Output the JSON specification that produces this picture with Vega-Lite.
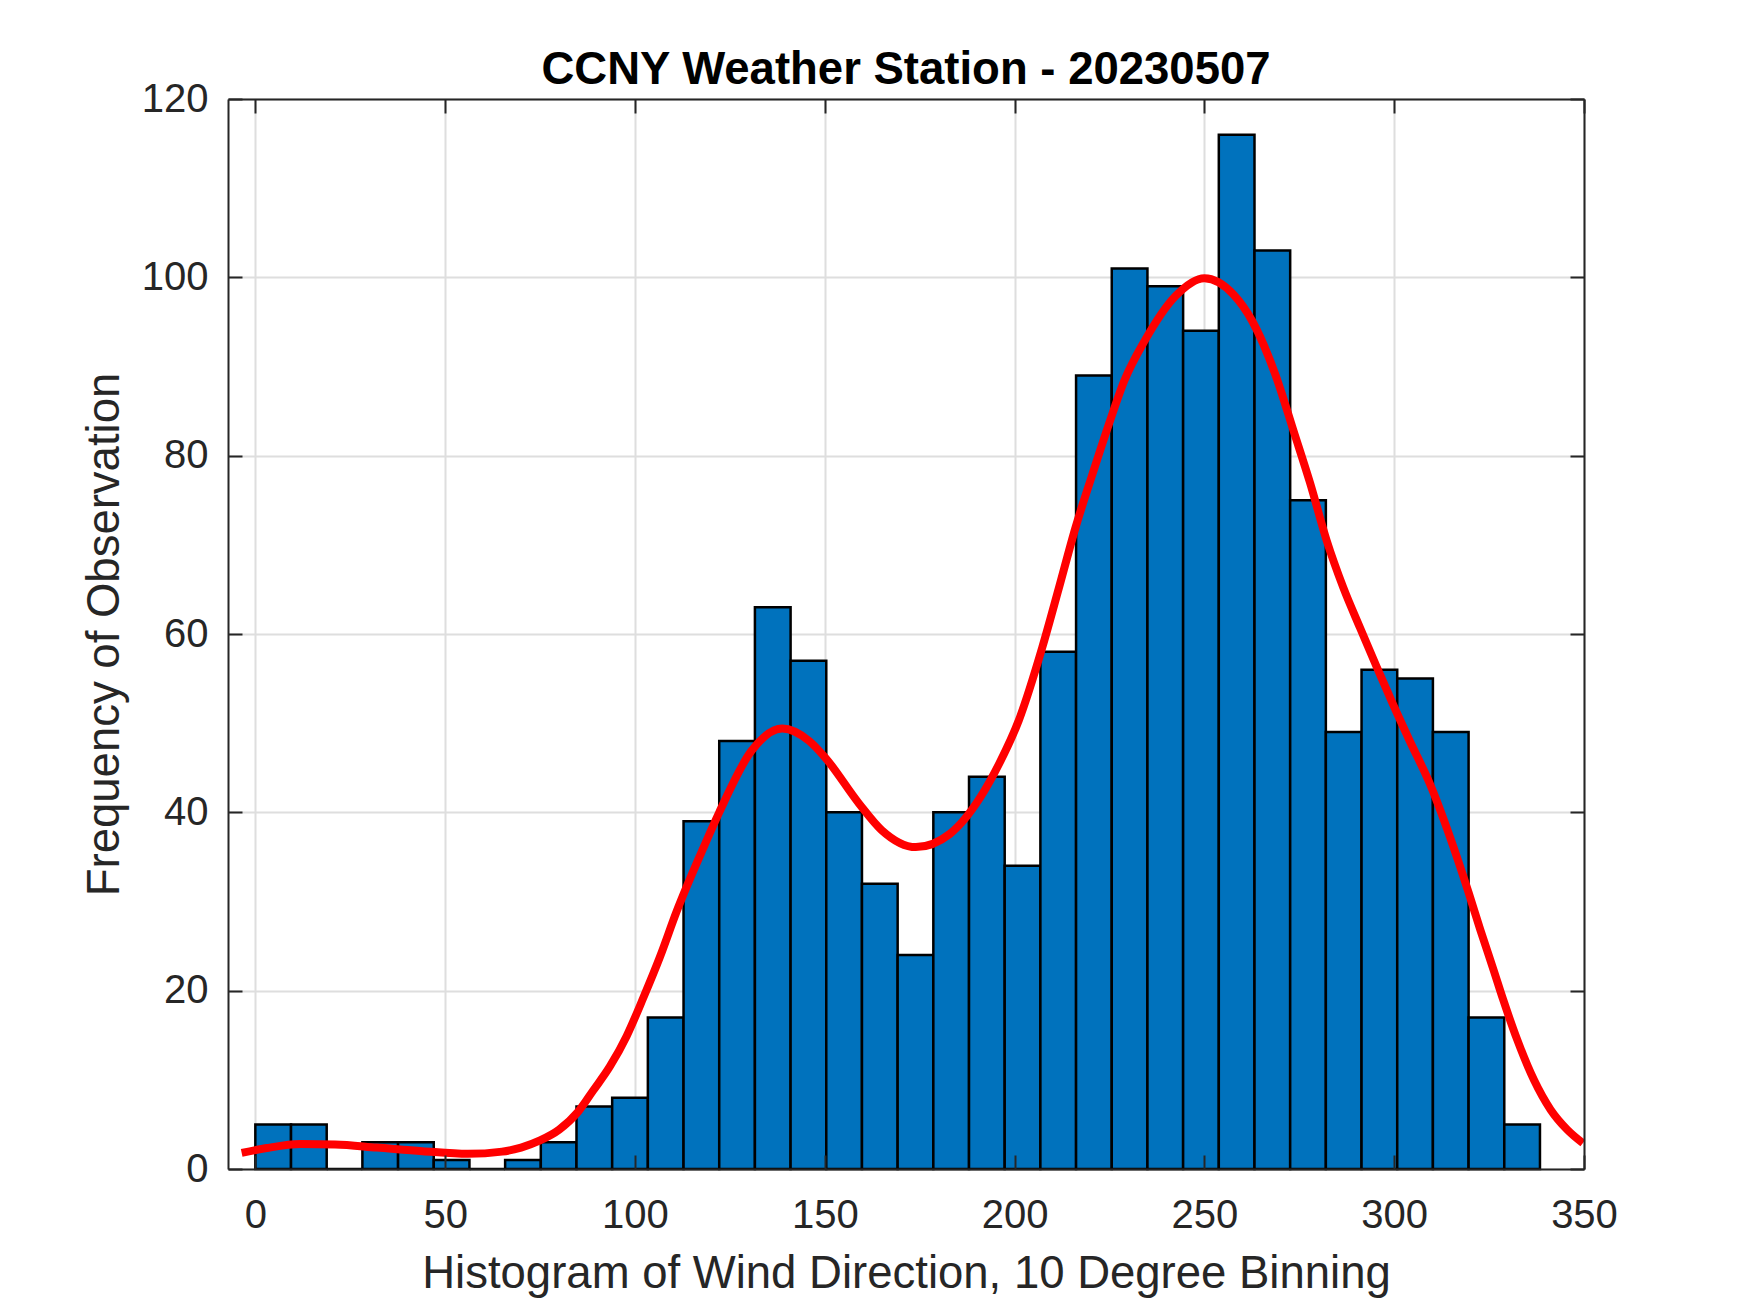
{
  "$schema": "https://vega.github.io/schema/vega-lite/v6.json",
  "width": 1356,
  "height": 1070,
  "autosize": {"type": "none"},
  "padding": {"left": 228, "top": 99, "right": 166, "bottom": 144},
  "background": "#ffffff",
  "config": {
    "view": {"stroke": null},
    "font": "Liberation Sans"
  },
  "title": {
    "text": "CCNY Weather Station - 20230507",
    "font": "Liberation Sans",
    "fontSize": 45.5,
    "fontWeight": "bold",
    "color": "#000000",
    "anchor": "middle",
    "frame": "group",
    "offset": -14
  },
  "datasets": {
    "bars": [
      {"b0": 0, "b1": 9.4, "count": 5},
      {"b0": 9.4, "b1": 18.8, "count": 5},
      {"b0": 18.8, "b1": 28.2, "count": 0},
      {"b0": 28.2, "b1": 37.6, "count": 3},
      {"b0": 37.6, "b1": 47, "count": 3},
      {"b0": 47, "b1": 56.4, "count": 1},
      {"b0": 56.4, "b1": 65.8, "count": 0},
      {"b0": 65.8, "b1": 75.2, "count": 1},
      {"b0": 75.2, "b1": 84.6, "count": 3},
      {"b0": 84.6, "b1": 94, "count": 7},
      {"b0": 94, "b1": 103.4, "count": 8},
      {"b0": 103.4, "b1": 112.8, "count": 17},
      {"b0": 112.8, "b1": 122.2, "count": 39},
      {"b0": 122.2, "b1": 131.6, "count": 48},
      {"b0": 131.6, "b1": 141, "count": 63},
      {"b0": 141, "b1": 150.4, "count": 57},
      {"b0": 150.4, "b1": 159.8, "count": 40},
      {"b0": 159.8, "b1": 169.2, "count": 32},
      {"b0": 169.2, "b1": 178.6, "count": 24},
      {"b0": 178.6, "b1": 188, "count": 40},
      {"b0": 188, "b1": 197.4, "count": 44},
      {"b0": 197.4, "b1": 206.8, "count": 34},
      {"b0": 206.8, "b1": 216.2, "count": 58},
      {"b0": 216.2, "b1": 225.6, "count": 89},
      {"b0": 225.6, "b1": 235, "count": 101},
      {"b0": 235, "b1": 244.4, "count": 99},
      {"b0": 244.4, "b1": 253.8, "count": 94},
      {"b0": 253.8, "b1": 263.2, "count": 116},
      {"b0": 263.2, "b1": 272.6, "count": 103},
      {"b0": 272.6, "b1": 282, "count": 75},
      {"b0": 282, "b1": 291.4, "count": 49},
      {"b0": 291.4, "b1": 300.8, "count": 56},
      {"b0": 300.8, "b1": 310.2, "count": 55},
      {"b0": 310.2, "b1": 319.6, "count": 49},
      {"b0": 319.6, "b1": 329, "count": 17},
      {"b0": 329, "b1": 338.4, "count": 5}
    ],
    "fit": [
      {"v": -3.6, "f": 1.8},
      {"v": 3, "f": 2.35},
      {"v": 12, "f": 2.8},
      {"v": 21, "f": 2.75},
      {"v": 32, "f": 2.4},
      {"v": 44, "f": 2.0},
      {"v": 56, "f": 1.7},
      {"v": 65, "f": 1.95},
      {"v": 70, "f": 2.4},
      {"v": 75, "f": 3.2},
      {"v": 80, "f": 4.4},
      {"v": 85, "f": 6.4},
      {"v": 89, "f": 8.8},
      {"v": 93.4, "f": 11.5},
      {"v": 97.8, "f": 14.9},
      {"v": 102.2, "f": 19.2},
      {"v": 106.6, "f": 23.8},
      {"v": 111, "f": 28.9},
      {"v": 117.6, "f": 35.6},
      {"v": 122.2, "f": 40.0},
      {"v": 130.7, "f": 46.9},
      {"v": 138.8, "f": 49.4},
      {"v": 145.9, "f": 48.0},
      {"v": 150, "f": 46.2},
      {"v": 159, "f": 41.0},
      {"v": 165, "f": 38.0},
      {"v": 174, "f": 36.1},
      {"v": 183, "f": 37.6},
      {"v": 191, "f": 41.7},
      {"v": 196, "f": 45.5},
      {"v": 201.1, "f": 50.3},
      {"v": 207.3, "f": 58.5},
      {"v": 211.7, "f": 65.2},
      {"v": 216.1, "f": 72.0},
      {"v": 220.5, "f": 77.9},
      {"v": 224.9, "f": 83.6},
      {"v": 228.9, "f": 88.4},
      {"v": 234.3, "f": 92.9},
      {"v": 242.4, "f": 97.9},
      {"v": 250, "f": 99.9},
      {"v": 257.6, "f": 98.1},
      {"v": 262.6, "f": 95.1},
      {"v": 268.7, "f": 89.1},
      {"v": 273.7, "f": 82.5},
      {"v": 277.8, "f": 77.0},
      {"v": 282.2, "f": 70.5},
      {"v": 286.6, "f": 65.2},
      {"v": 291, "f": 60.7},
      {"v": 295.4, "f": 56.3},
      {"v": 299.7, "f": 52.1},
      {"v": 304.1, "f": 48.0},
      {"v": 309.4, "f": 43.2},
      {"v": 315.7, "f": 36.0},
      {"v": 319.6, "f": 31.0},
      {"v": 322.7, "f": 26.8},
      {"v": 326.2, "f": 22.3},
      {"v": 328.7, "f": 19.0},
      {"v": 332.4, "f": 14.5},
      {"v": 336.8, "f": 10.0},
      {"v": 341.2, "f": 6.65},
      {"v": 345.6, "f": 4.4},
      {"v": 349.7, "f": 2.9}
    ]
  },
  "resolve": {"axis": {"x": "independent", "y": "independent"}},
  "layer": [
    {
      "data": {"name": "bars"},
      "mark": {"type": "rect", "fill": "#0072BD", "stroke": "#000000", "strokeWidth": 2.5},
      "encoding": {
        "x": {
          "field": "b0", "type": "quantitative",
          "scale": {"domain": [-7.2, 350], "nice": false, "zero": false},
          "axis": {"orient": "bottom", "values": [0, 50, 100, 150, 200, 250, 300, 350], "grid": true, "gridColor": "#dedede", "gridWidth": 2, "labels": false, "ticks": false, "domain": false, "title": null, "zindex": 0}
        },
        "x2": {"field": "b1"},
        "y": {
          "field": "count", "type": "quantitative",
          "scale": {"domain": [0, 120], "nice": false, "zero": true},
          "axis": {"orient": "left", "values": [0, 20, 40, 60, 80, 100, 120], "grid": true, "gridColor": "#dedede", "gridWidth": 2, "labels": false, "ticks": false, "domain": false, "title": null, "zindex": 0}
        },
        "y2": {"datum": 0}
      }
    },
    {
      "data": {"name": "fit"},
      "mark": {"type": "line", "color": "#FF0000", "strokeWidth": 8, "interpolate": "monotone"},
      "encoding": {
        "x": {
          "field": "v", "type": "quantitative",
          "scale": {"domain": [-7.2, 350], "nice": false, "zero": false},
          "axis": {
            "orient": "bottom", "values": [0, 50, 100, 150, 200, 250, 300, 350],
            "grid": false, "tickSize": -14, "tickWidth": 2, "tickColor": "#262626",
            "domainColor": "#262626", "domainWidth": 2,
            "labelFont": "Liberation Sans", "labelFontSize": 40, "labelColor": "#262626",
            "labelPadding": 40, "labelFlush": false, "labelOverlap": false,
            "title": "Histogram of Wind Direction, 10 Degree Binning",
            "titleFont": "Liberation Sans", "titleFontSize": 45.5, "titleFontWeight": "normal",
            "titleColor": "#262626", "titlePadding": 16, "zindex": 1
          }
        },
        "y": {
          "field": "f", "type": "quantitative",
          "scale": {"domain": [0, 120], "nice": false, "zero": true},
          "axis": {
            "orient": "left", "values": [0, 20, 40, 60, 80, 100, 120],
            "grid": false, "tickSize": -14, "tickWidth": 2, "tickColor": "#262626",
            "domainColor": "#262626", "domainWidth": 2,
            "labelFont": "Liberation Sans", "labelFontSize": 40, "labelColor": "#262626",
            "labelPadding": 34, "labelOverlap": false,
            "title": "Frequency of Observation",
            "titleFont": "Liberation Sans", "titleFontSize": 45.5, "titleFontWeight": "normal",
            "titleColor": "#262626", "titlePadding": 13, "zindex": 1
          }
        }
      }
    },
    {
      "data": {"name": "fit"},
      "mark": {"type": "line", "strokeOpacity": 0, "opacity": 0},
      "encoding": {
        "x": {
          "field": "v", "type": "quantitative",
          "scale": {"domain": [-7.2, 350], "nice": false, "zero": false},
          "axis": {
            "orient": "top", "values": [0, 50, 100, 150, 200, 250, 300, 350],
            "grid": false, "labels": false, "title": null,
            "tickSize": -14, "tickWidth": 2, "tickColor": "#262626",
            "domainColor": "#262626", "domainWidth": 2, "zindex": 1
          }
        },
        "y": {
          "field": "f", "type": "quantitative",
          "scale": {"domain": [0, 120], "nice": false, "zero": true},
          "axis": {
            "orient": "right", "values": [0, 20, 40, 60, 80, 100, 120],
            "grid": false, "labels": false, "title": null,
            "tickSize": -14, "tickWidth": 2, "tickColor": "#262626",
            "domainColor": "#262626", "domainWidth": 2, "zindex": 1
          }
        }
      }
    }
  ]
}
